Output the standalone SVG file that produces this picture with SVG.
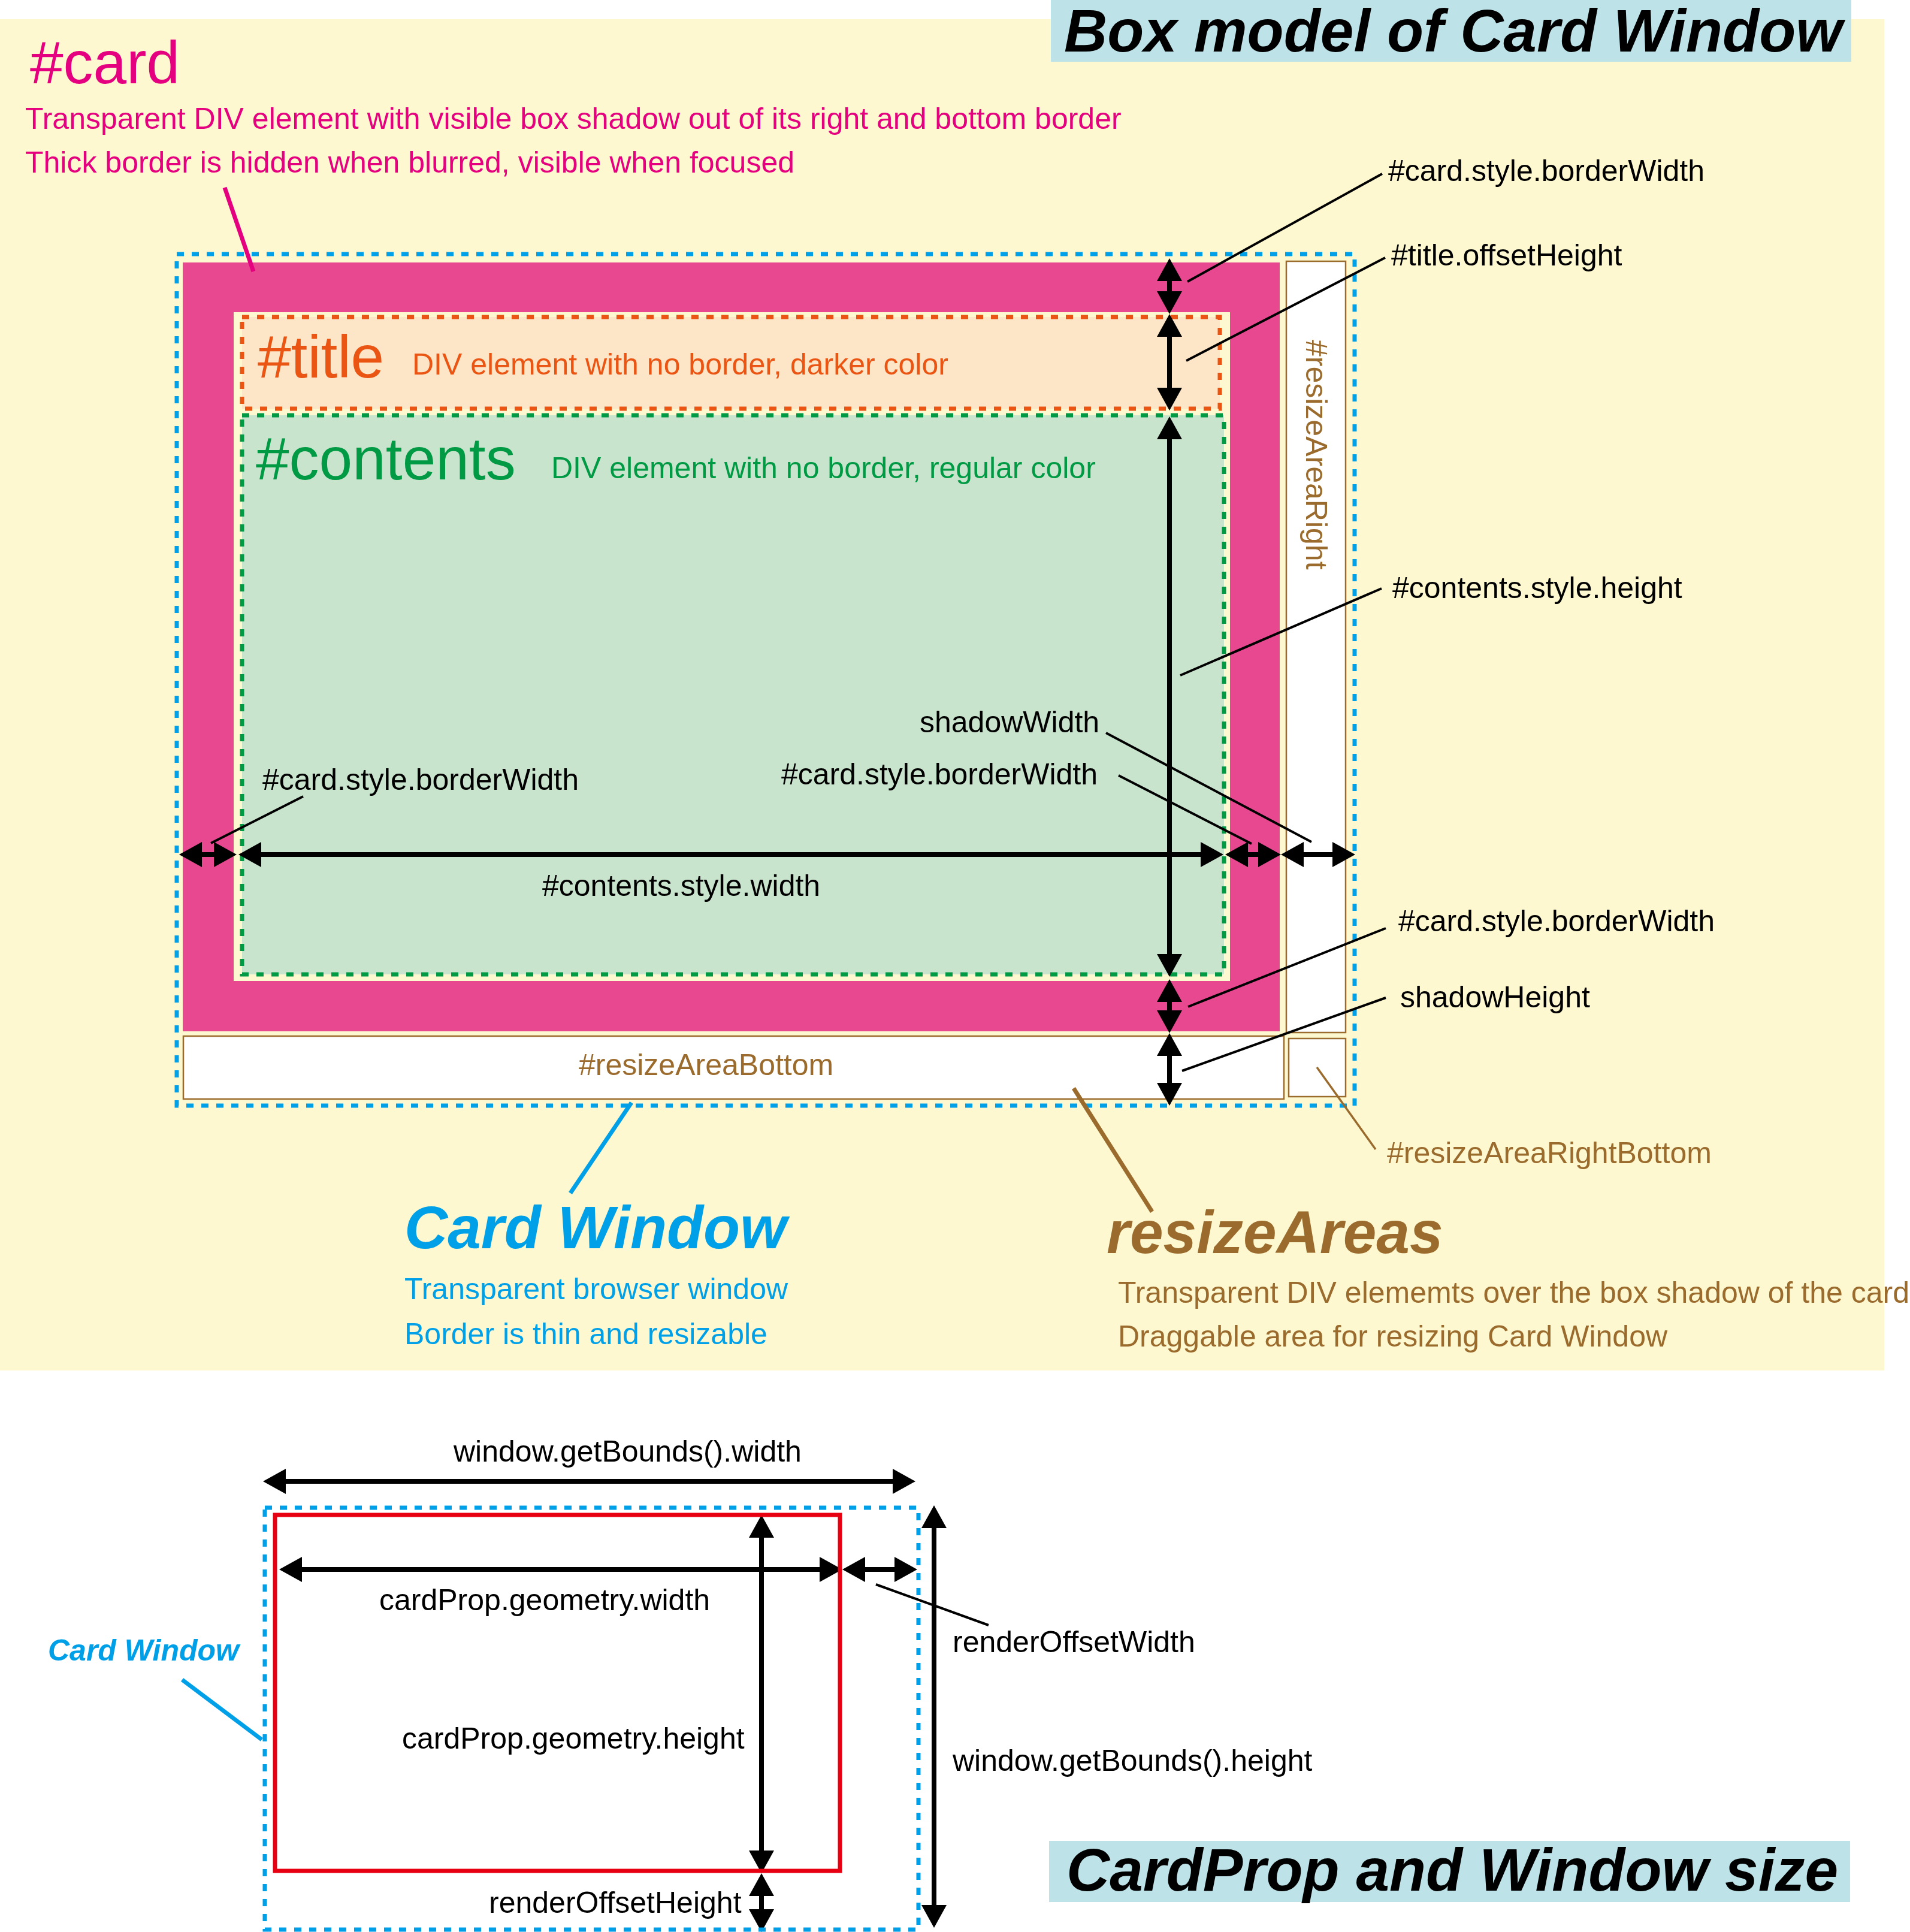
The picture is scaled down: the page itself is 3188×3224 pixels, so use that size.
<svg xmlns="http://www.w3.org/2000/svg" width="3188" height="3224" viewBox="0 0 3188 3224">
<style>
text{font-family:"Liberation Sans",Arial,sans-serif}
.lbl{font-size:50px;fill:#000}
.big{font-size:100px}
.hb{font-size:100px;font-weight:bold;font-style:italic}
.mag{fill:#e4007f}
.org{fill:#ea5514}
.grn{fill:#009944}
.blu{fill:#00a0e9}
.brn{fill:#9a6b2d}
.dim{stroke:#000;stroke-width:8;fill:none;marker-start:url(#ah);marker-end:url(#ah)}
.ldr{stroke:#000;stroke-width:4;fill:none}
.win{fill:none;stroke:#00a0e9;stroke-width:7;stroke-dasharray:12 13}
.ra{fill:#fff;stroke:#9a6b2d;stroke-width:2.5}
</style>
<defs>
<marker id="ah" viewBox="0 -22 40 44" markerWidth="40" markerHeight="44" refX="18" refY="0" orient="auto-start-reverse" markerUnits="userSpaceOnUse"><path d="M0,-21 L38,0 L0,21 z" fill="#000"/></marker>
</defs>
<rect x="0" y="0" width="3188" height="3224" fill="#fff"/>
<rect x="0" y="32" width="3145" height="2255" fill="#fdf8cf"/>

<g id="title-box-model">
<rect x="1754" y="0" width="1336" height="103" fill="#bde3e9"/>
<text class="hb" x="1776" y="86">Box model of Card Window</text>
</g>

<g id="card-desc">
<text class="big mag" x="50" y="139">#card</text>
<text class="lbl mag" x="42" y="215">Transparent DIV element with visible box shadow out of its right and bottom border</text>
<text class="lbl mag" x="42" y="288">Thick border is hidden when blurred, visible when focused</text>
</g>

<g id="card">
<rect x="305" y="438" width="1831" height="1283" fill="#e8488f"/>
<rect x="390" y="521" width="1663" height="1116" fill="#fdf8cf"/>
</g>

<g id="title">
<rect x="404" y="529" width="1632" height="153" fill="#fde6c7" stroke="#ea5514" stroke-width="7" stroke-dasharray="12 13"/>
<text class="big org" x="430" y="630">#title</text>
<text class="lbl org" x="688" y="625">DIV element with no border, darker color</text>
</g>

<g id="contents">
<rect x="404" y="693" width="1639" height="933" fill="#c9e4cd" stroke="#009944" stroke-width="7" stroke-dasharray="12 13"/>
<text class="big grn" x="427" y="800">#contents</text>
<text class="lbl grn" x="920" y="798">DIV element with no border, regular color</text>
</g>

<g id="resizeAreaRight">
<rect class="ra" x="2147" y="436" width="99" height="1287"/>
<text class="lbl brn" transform="translate(2180,567) rotate(90)" x="0" y="0">#resizeAreaRight</text>
</g>
<g id="resizeAreaBottom">
<rect class="ra" x="306" y="1729" width="1837" height="105"/>
<text class="lbl brn" x="966" y="1794">#resizeAreaBottom</text>
</g>
<g id="resizeAreaRightBottom">
<rect class="ra" x="2151" y="1733" width="95" height="97"/>
</g>

<g id="card-window">
<rect class="win" x="295" y="424" width="1966" height="1421"/>
</g>

<g id="connectors">
<line x1="375" y1="313" x2="423" y2="453" stroke="#e4007f" stroke-width="7"/>
<line x1="1054" y1="1840" x2="952" y2="1991" stroke="#00a0e9" stroke-width="7"/>
<line x1="1792" y1="1816" x2="1923" y2="2022" stroke="#9a6b2d" stroke-width="7"/>
<line x1="2198" y1="1781" x2="2296" y2="1918" stroke="#9a6b2d" stroke-width="3.5"/>
<line class="ldr" x1="2307" y1="290" x2="1982" y2="470"/>
<line class="ldr" x1="2312" y1="430" x2="1980" y2="602"/>
<line class="ldr" x1="2306" y1="982" x2="1970" y2="1127"/>
<line class="ldr" x1="1846" y1="1223" x2="2189" y2="1405"/>
<line class="ldr" x1="1867" y1="1294" x2="2089" y2="1408"/>
<line class="ldr" x1="506" y1="1329" x2="352" y2="1407"/>
<line class="ldr" x1="2313" y1="1549" x2="1983" y2="1680"/>
<line class="ldr" x1="2313" y1="1665" x2="1973" y2="1787"/>
<line class="dim" x1="319" y1="1426" x2="375" y2="1426"/>
<line class="dim" x1="418" y1="1426" x2="2022" y2="1426"/>
<line class="dim" x1="2065" y1="1426" x2="2118" y2="1426"/>
<line class="dim" x1="2158" y1="1426" x2="2242" y2="1426"/>
<line class="dim" x1="1952" y1="451" x2="1952" y2="504"/>
<line class="dim" x1="1952" y1="544" x2="1952" y2="665"/>
<line class="dim" x1="1952" y1="715" x2="1952" y2="1610"/>
<line class="dim" x1="1952" y1="1654" x2="1952" y2="1704"/>
<line class="dim" x1="1952" y1="1744" x2="1952" y2="1825"/>
<line class="ldr" x1="1462" y1="2644" x2="1650" y2="2712"/>
<line stroke="#00a0e9" stroke-width="7" x1="304" y1="2803" x2="437" y2="2903"/>
<line class="dim" x1="459" y1="2472" x2="1508" y2="2472"/>
<line class="dim" x1="486" y1="2619" x2="1386" y2="2619"/>
<line class="dim" x1="1426" y1="2619" x2="1511" y2="2619"/>
<line class="dim" x1="1271" y1="2548" x2="1271" y2="3106"/>
<line class="dim" x1="1271" y1="3146" x2="1271" y2="3204"/>
<line class="dim" x1="1559" y1="2532" x2="1559" y2="3197"/>
</g>

<g id="dim-labels">
<text class="lbl" x="2317" y="302">#card.style.borderWidth</text>
<text class="lbl" x="2322" y="443">#title.offsetHeight</text>
<text class="lbl" x="2324" y="998">#contents.style.height</text>
<text class="lbl" x="1535" y="1222">shadowWidth</text>
<text class="lbl" x="1304" y="1309">#card.style.borderWidth</text>
<text class="lbl" x="438" y="1318">#card.style.borderWidth</text>
<text class="lbl" x="905" y="1495">#contents.style.width</text>
<text class="lbl" x="2334" y="1554">#card.style.borderWidth</text>
<text class="lbl" x="2337" y="1681">shadowHeight</text>
<text class="lbl brn" x="2315" y="1941">#resizeAreaRightBottom</text>
</g>

<g id="card-window-desc">
<text class="hb blu" x="675" y="2083">Card Window</text>
<text class="lbl blu" x="675" y="2168">Transparent browser window</text>
<text class="lbl blu" x="675" y="2243">Border is thin and resizable</text>
</g>

<g id="resizeAreas-desc">
<text class="hb brn" x="1847" y="2091">resizeAreas</text>
<text class="lbl brn" x="1866" y="2174">Transparent DIV elememts over the box shadow of the card</text>
<text class="lbl brn" x="1866" y="2247">Draggable area for resizing Card Window</text>
</g>

<g id="window-bounds">
<rect class="win" x="442" y="2516" width="1091" height="704"/>
<text class="lbl" x="757" y="2439">window.getBounds().width</text>
<text class="lbl" x="1590" y="2955">window.getBounds().height</text>
<text class="lbl" x="1590" y="2757">renderOffsetWidth</text>
<text class="lbl" x="816" y="3192">renderOffsetHeight</text>
</g>
<g id="cardprop-geometry">
<rect x="459" y="2528" width="943" height="594" fill="none" stroke="#e60012" stroke-width="7"/>
<text class="lbl" x="633" y="2687">cardProp.geometry.width</text>
<text class="lbl" x="671" y="2918">cardProp.geometry.height</text>
</g>
<g id="card-window-label">
<text class="blu" x="80" y="2771" style="font-size:50px;font-weight:bold;font-style:italic">Card Window</text>
</g>
<g id="title-cardprop">
<rect x="1751" y="3072" width="1337" height="102" fill="#bde3e9"/>
<text class="hb" x="1780" y="3155">CardProp and Window size</text>
</g>
</svg>
